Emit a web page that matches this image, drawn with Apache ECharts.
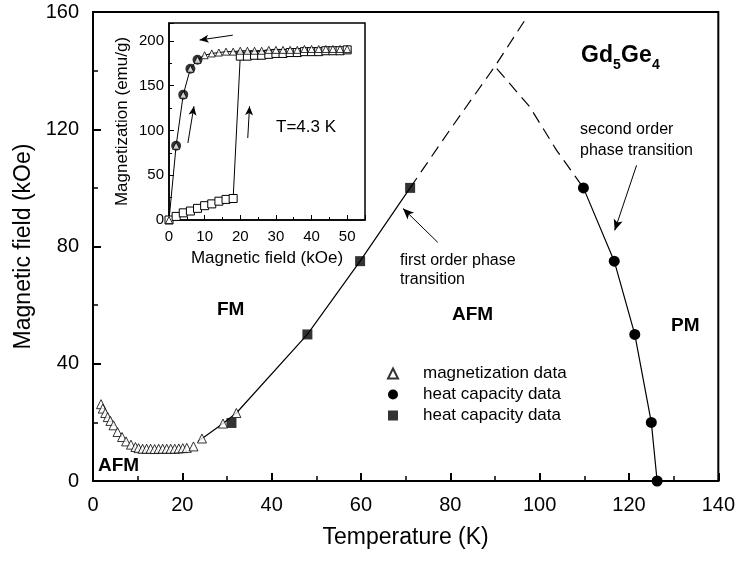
<!DOCTYPE html>
<html><head><meta charset="utf-8">
<script src="https://cdn.jsdelivr.net/npm/echarts@6/dist/echarts.min.js"></script>
<style>html,body{margin:0;padding:0;background:#fff}#c{width:738px;height:562px}</style>
</head><body><div id="c"></div>
<script>
const FONT = '"Liberation Sans", Arial, Helvetica, sans-serif';

// ---- Main phase diagram (Temperature K vs Magnetic field kOe) ----
const xTicks = [0, 20, 40, 60, 80, 100, 120, 140];
const yTicks = [0, 40, 80, 120, 160];

// magnetization data (open triangles)
const magTemp  = [1.8, 2.2, 2.75, 3.3, 3.9, 4.6, 5.5, 6.5, 7.4, 8.5, 9.5, 10.2, 11.1, 12.0, 12.9, 13.8, 14.7, 15.6, 16.5, 17.4, 18.3, 19.2, 20.1, 21.0, 22.5, 24.4, 29.1, 32.1];
const magField = [26.2, 24.7, 23.2, 21.8, 20.5, 19.0, 16.7, 15.0, 13.5, 12.4, 11.6, 11.2, 11.0, 11.0, 11.0, 10.9, 11.0, 11.0, 11.0, 11.0, 11.0, 11.1, 11.2, 11.3, 11.8, 14.5, 19.6, 23.2];

// heat capacity data (filled circles) - second order line
const hcCircTemp  = [109.8, 116.7, 121.3, 125.0, 126.3];
const hcCircField = [100, 75, 50, 20, 0];

// heat capacity data (filled squares) - first order line
const hcSqTemp  = [31.0, 48.0, 59.8, 71.0];
const hcSqField = [19.8, 50, 75, 100];

// first order transition line (solid) and its dashed extrapolation
const foSolidTemp  = [23.5, 29.1, 32.1, 48.0, 59.8, 71.0];
const foSolidField = [13.5, 19.6, 23.2, 50, 75, 100];
const foDashTemp  = [71.0, 80.0, 90.0, 96.6];
const foDashField = [100, 120, 141.5, 157];

// second order transition dashed extrapolation
const soDashTemp  = [90.4, 97.8, 103.8, 109.8];
const soDashField = [140.7, 127.6, 112.8, 100];

// ---- Inset: Magnetization vs field at T=4.3 K ----
const insetFieldTicks = [0, 10, 20, 30, 40, 50];
const insetMagTicks = [0, 50, 100, 150, 200];
const downField = [0, 2, 4, 6, 8, 10, 12, 14, 16, 18, 20, 22, 24, 26, 28, 30, 32, 34, 36, 38, 40, 42, 44, 46, 48, 50];
const downMag   = [0, 83, 140, 169, 179, 184, 186, 187, 188, 188, 189, 189, 189, 189, 190, 190, 190, 190, 190, 191, 191, 191, 191, 191, 191, 191];
const circField = [2, 4, 6, 8];
const circMag   = [83, 140, 169, 179];
const upField = [0, 2, 4, 6, 8, 10, 12, 14, 16, 18, 20, 22, 24, 26, 28, 30, 32, 34, 36, 38, 40, 42, 44, 46, 48, 50];
const upMag   = [0, 4, 8, 10, 13, 16, 18, 21, 23, 24, 183, 183, 184, 184, 185, 186, 186, 187, 187, 188, 188, 188, 189, 189, 189, 190];

const zip = (a, b) => a.map((v, i) => [v, b[i]]);

const chart = echarts.init(document.getElementById('c'), null, {renderer: 'canvas'});

const blk = '#000';
const arrowStyle = {
  silent: true, symbol: ['none', 'arrow'], symbolSize: [7, 11],
  label: {show: false}, lineStyle: {color: blk, type: 'solid', width: 1}, animation: false
};

const option = {
  animation: false,
  backgroundColor: '#fff',
  textStyle: {fontFamily: FONT, color: blk},
  grid: [
    {left: 93, top: 12, width: 626, height: 469, show: true, borderColor: blk, borderWidth: 2, backgroundColor: 'transparent', containLabel: false},
    {left: 169, top: 23, width: 196, height: 197, show: true, borderColor: blk, borderWidth: 1.5, backgroundColor: '#fff', containLabel: false, z: 5}
  ],
  xAxis: [
    {gridIndex: 0, type: 'value', min: xTicks[0], max: xTicks[xTicks.length - 1], interval: 20,
     axisLine: {lineStyle: {color: blk, width: 2}}, splitLine: {show: false},
     axisTick: {inside: true, length: 8, lineStyle: {color: blk, width: 2}},
     minorTick: {show: true, splitNumber: 2, length: 5, lineStyle: {color: blk, width: 1.5}},
     axisLabel: {fontSize: 20, color: blk, margin: 14, fontFamily: FONT},
     name: 'Temperature (K)', nameLocation: 'middle', nameGap: 45,
     nameTextStyle: {fontSize: 23, color: blk, fontFamily: FONT}},
    {gridIndex: 1, type: 'value', min: 0, max: 55, interval: 10, z: 6,
     axisLine: {lineStyle: {color: blk, width: 1.5}}, splitLine: {show: false},
     axisTick: {inside: true, length: 5, lineStyle: {color: blk, width: 1}},
     minorTick: {show: true, splitNumber: 2, length: 3, lineStyle: {color: blk, width: 1}},
     axisLabel: {fontSize: 15, color: blk, margin: 9, fontFamily: FONT,
       formatter: v => insetFieldTicks.includes(v) ? String(v) : ''},
     name: 'Magnetic field (kOe)', nameLocation: 'middle', nameGap: 30,
     nameTextStyle: {fontSize: 17, color: blk, fontFamily: FONT}}
  ],
  yAxis: [
    {gridIndex: 0, type: 'value', min: yTicks[0], max: yTicks[yTicks.length - 1], interval: 40,
     axisLine: {lineStyle: {color: blk, width: 2}}, splitLine: {show: false},
     axisTick: {inside: true, length: 8, lineStyle: {color: blk, width: 2}},
     minorTick: {show: true, splitNumber: 2, length: 5, lineStyle: {color: blk, width: 1.5}},
     axisLabel: {fontSize: 20, color: blk, margin: 14, fontFamily: FONT},
     name: 'Magnetic field (kOe)', nameLocation: 'middle', nameGap: 46,
     nameTextStyle: {fontSize: 23, color: blk, fontFamily: FONT}},
    {gridIndex: 1, type: 'value', min: 0, max: 220, interval: 50, z: 6,
     axisLine: {lineStyle: {color: blk, width: 1.5}}, splitLine: {show: false},
     axisTick: {inside: true, length: 5, lineStyle: {color: blk, width: 1}},
     minorTick: {show: true, splitNumber: 2, length: 3, lineStyle: {color: blk, width: 1}},
     axisLabel: {fontSize: 15, color: blk, margin: 5, fontFamily: FONT,
       formatter: v => insetMagTicks.includes(v) ? String(v) : ''},
     name: 'Magnetization (emu/g)', nameLocation: 'middle', nameGap: 38,
     nameTextStyle: {fontSize: 17, color: blk, fontFamily: FONT}}
  ],
  legend: {
    orient: 'vertical', left: 382, top: 360, itemWidth: 10, itemHeight: 10, itemGap: 4,
    data: [
      {name: 'magnetization data', icon: 'triangle'},
      {name: 'hcCircle', icon: 'circle'},
      {name: 'hcSquare', icon: 'rect'}
    ],
    formatter: n => n === 'magnetization data' ? n : 'heat capacity data',
    textStyle: {fontSize: 17, color: blk, fontFamily: FONT, padding: [0, 0, 0, 20]},
    selectedMode: false
  },
  series: [
    {type: 'line', name: 'foSolid', xAxisIndex: 0, yAxisIndex: 0, data: zip(foSolidTemp, foSolidField),
     showSymbol: false, symbol: 'none', lineStyle: {color: blk, width: 1.2}, z: 2,
     markLine: Object.assign({}, arrowStyle, {data: [
       [{coord: [77.2, 81.4]}, {coord: [69.4, 93.0]}],
       [{coord: [121.7, 107.7]}, {coord: [116.8, 85.5]}]
     ]})},
    {type: 'line', name: 'foDash', xAxisIndex: 0, yAxisIndex: 0, data: zip(foDashTemp, foDashField),
     showSymbol: false, symbol: 'none', lineStyle: {color: blk, width: 1.2, type: [12, 7]}, z: 2},
    {type: 'line', name: 'soDash', xAxisIndex: 0, yAxisIndex: 0, data: zip(soDashTemp, soDashField),
     showSymbol: false, symbol: 'none', lineStyle: {color: blk, width: 1.2, type: [12, 7]}, z: 2},
    {type: 'line', name: 'hcCircle', xAxisIndex: 0, yAxisIndex: 0, data: zip(hcCircTemp, hcCircField),
     symbol: 'circle', symbolSize: 11, itemStyle: {color: blk}, lineStyle: {color: blk, width: 1.2}, z: 3},
    {type: 'scatter', name: 'hcSquare', xAxisIndex: 0, yAxisIndex: 0, data: zip(hcSqTemp, hcSqField),
     symbol: 'rect', symbolSize: 10, itemStyle: {color: blk}, z: 3},
    {type: 'scatter', name: 'magnetization data', xAxisIndex: 0, yAxisIndex: 0, data: zip(magTemp, magField),
     symbol: 'triangle', symbolSize: 9, itemStyle: {color: '#fff', borderColor: blk, borderWidth: 1}, z: 4},
    {type: 'line', name: 'insetUp', xAxisIndex: 1, yAxisIndex: 1, data: zip(upField, upMag),
     symbol: 'rect', symbolSize: 8, showAllSymbol: true,
     itemStyle: {color: '#fff', borderColor: blk, borderWidth: 1}, lineStyle: {color: blk, width: 1}, z: 7,
     markLine: Object.assign({}, arrowStyle, {symbolSize: [6, 9], data: [
       [{coord: [17.9, 206.4]}, {coord: [8.6, 201.0]}],
       [{coord: [5.3, 86]}, {coord: [7.0, 127]}],
       [{coord: [22.1, 91.6]}, {coord: [22.6, 127]}]
     ]})},
    {type: 'line', name: 'insetDown', xAxisIndex: 1, yAxisIndex: 1, data: zip(downField, downMag),
     symbol: 'none', lineStyle: {color: blk, width: 1}, z: 7},
    {type: 'scatter', name: 'insetCirc', xAxisIndex: 1, yAxisIndex: 1, data: zip(circField, circMag),
     symbol: 'circle', symbolSize: 10, itemStyle: {color: blk}, z: 8},
    {type: 'scatter', name: 'insetTri', xAxisIndex: 1, yAxisIndex: 1, data: zip(downField, downMag),
     symbol: 'triangle', symbolSize: 7, itemStyle: {color: '#fff', borderColor: blk, borderWidth: 1}, z: 9}
  ],
  graphic: [
    {type: 'text', left: 581, top: 44, z: 20, style: {text: 'Gd', font: 'bold 23px ' + FONT, fill: blk}},
    {type: 'text', left: 613, top: 58, z: 20, style: {text: '5', font: 'bold 14px ' + FONT, fill: blk}},
    {type: 'text', left: 621, top: 44, z: 20, style: {text: 'Ge', font: 'bold 23px ' + FONT, fill: blk}},
    {type: 'text', left: 652, top: 58, z: 20, style: {text: '4', font: 'bold 14px ' + FONT, fill: blk}},
    {type: 'text', left: 580, top: 119, z: 20, style: {text: 'second order\nphase transition', font: '16px ' + FONT, fill: blk, lineHeight: 21}},
    {type: 'text', left: 400, top: 251, z: 20, style: {text: 'first order phase\ntransition', font: '16px ' + FONT, fill: blk, lineHeight: 19}},
    {type: 'text', left: 276, top: 119, z: 20, style: {text: 'T=4.3 K', font: '17px ' + FONT, fill: blk}},
    {type: 'text', left: 217, top: 300, z: 20, style: {text: 'FM', font: 'bold 19px ' + FONT, fill: blk}},
    {type: 'text', left: 452, top: 305, z: 20, style: {text: 'AFM', font: 'bold 19px ' + FONT, fill: blk}},
    {type: 'text', left: 671, top: 316, z: 20, style: {text: 'PM', font: 'bold 19px ' + FONT, fill: blk}},
    {type: 'text', left: 98, top: 456, z: 20, style: {text: 'AFM', font: 'bold 19px ' + FONT, fill: blk}}
  ]
};
chart.setOption(option);
</script>
</body></html>
